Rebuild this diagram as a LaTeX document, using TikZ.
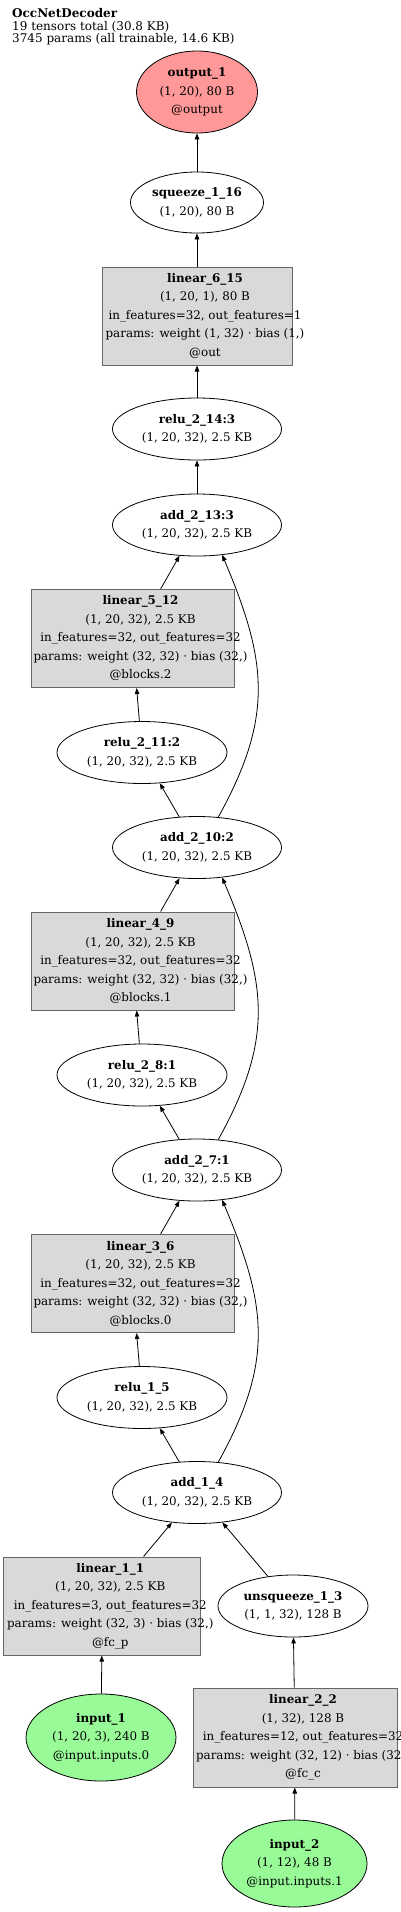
\documentclass[tikz,border=0pt]{standalone}
\usepackage{fontspec}
\setmainfont{DejaVu Serif}
\usetikzlibrary{arrows.meta,shapes.geometric}
\definecolor{OutputFill}{HTML}{FF9999}
\definecolor{InputFill}{HTML}{98FB98}
\definecolor{LayerFill}{HTML}{D9D9D9}
\definecolor{LayerEdge}{HTML}{666666}

\begin{document}
\begin{tikzpicture}[x=1pt,y=1pt,
        tensor/.style={ellipse,draw,line width=.8pt,inner sep=0pt,minimum width=169pt,minimum height=62pt,align=center,font=\fontsize{11.9}{18.5}\selectfont},
        layer/.style={rectangle,draw=LayerEdge,fill=LayerFill,line width=1pt,inner sep=0pt,minimum width=203pt,minimum height=98pt},
        layertext/.style={align=center,inner sep=0pt,xshift=8pt,font=\fontsize{11.9}{18.5}\selectfont},
        link/.style={-{Triangle[length=6pt,width=4.5pt]},line width=.8pt}]
        \useasboundingbox (0,0) rectangle (400,-1912);
        \node[anchor=north west,inner sep=0pt,align=left,font=\fontsize{12}{12.4}\selectfont] (title) at (12,-8.3) {\textbf{OccNetDecoder}\\19 tensors total (30.8 KB)\\3745 params (all trainable, 14.6 KB)};
        % output side
        \node[tensor,fill=OutputFill,minimum width=121pt,minimum height=82pt] (out1) at (197,-92) {\textbf{output\_1}\\(1, 20), 80 B\\@output};
        \node[tensor,minimum width=133pt,minimum height=61pt] (sq16) at (197,-202.5) {\textbf{squeeze\_1\_16}\\(1, 20), 80 B};
        \node[layer,minimum width=190pt,label={[layertext]center:{\textbf{linear\_6\_15}\\(1, 20, 1), 80 B\\in\_features=32, out\_features=1\\params: weight (1, 32) · bias (1,)\\@out}}] (lin15) at (197,-316) {};
        \node[tensor] (relu14) at (197,-429) {\textbf{relu\_2\_14:3}\\(1, 20, 32), 2.5 KB};
        % residual blocks
        \node[tensor] (add13) at (197,-525) {\textbf{add\_2\_13:3}\\(1, 20, 32), 2.5 KB};
        \node[layer,label={[layertext]center:{\textbf{linear\_5\_12}\\(1, 20, 32), 2.5 KB\\in\_features=32, out\_features=32\\params: weight (32, 32) · bias (32,)\\@blocks.2}}] (lin12) at (132.5,-638.5) {};
        \node[tensor,minimum width=170pt] (relu11) at (142,-752.5) {\textbf{relu\_2\_11:2}\\(1, 20, 32), 2.5 KB};
        \node[tensor] (add10) at (197,-847.5) {\textbf{add\_2\_10:2}\\(1, 20, 32), 2.5 KB};
        \node[layer,label={[layertext]center:{\textbf{linear\_4\_9}\\(1, 20, 32), 2.5 KB\\in\_features=32, out\_features=32\\params: weight (32, 32) · bias (32,)\\@blocks.1}}] (lin9) at (132.5,-961) {};
        \node[tensor,minimum width=170pt] (relu8) at (142,-1075) {\textbf{relu\_2\_8:1}\\(1, 20, 32), 2.5 KB};
        \node[tensor] (add7) at (197,-1170) {\textbf{add\_2\_7:1}\\(1, 20, 32), 2.5 KB};
        \node[layer,label={[layertext]center:{\textbf{linear\_3\_6}\\(1, 20, 32), 2.5 KB\\in\_features=32, out\_features=32\\params: weight (32, 32) · bias (32,)\\@blocks.0}}] (lin6) at (132.5,-1283.5) {};
        \node[tensor,minimum width=170pt] (relu5) at (142,-1397.5) {\textbf{relu\_1\_5}\\(1, 20, 32), 2.5 KB};
        \node[tensor] (add4) at (197,-1492.5) {\textbf{add\_1\_4}\\(1, 20, 32), 2.5 KB};
        % inputs
        \node[layer,minimum width=197pt,label={[layertext]center:{\textbf{linear\_1\_1}\\(1, 20, 32), 2.5 KB\\in\_features=3, out\_features=32\\params: weight (32, 3) · bias (32,)\\@fc\_p}}] (lin1) at (102.3,-1606) {};
        \node[tensor,minimum width=150pt] (unsq3) at (293,-1606) {\textbf{unsqueeze\_1\_3}\\(1, 1, 32), 128 B};
        \node[tensor,fill=InputFill,minimum width=150pt,minimum height=87pt] (in1) at (101,-1737.5) {\textbf{input\_1}\\(1, 20, 3), 240 B\\@input.inputs.0};
        \node[layer,minimum width=204pt,minimum height=99pt,label={[layertext]center:{\textbf{linear\_2\_2}\\(1, 32), 128 B\\in\_features=12, out\_features=32\\params: weight (32, 12) · bias (32,)\\@fc\_c}}] (lin2) at (295,-1737.5) {};
        \node[tensor,fill=InputFill,minimum width=145pt,minimum height=87pt] (in2) at (294.5,-1863.5) {\textbf{input\_2}\\(1, 12), 48 B\\@input.inputs.1};
        \draw[link] (in1) -- (lin1);\draw[link] (in2) -- (lin2);\draw[link] (lin2) -- (unsq3);
        \draw[link] (lin1) -- (add4);\draw[link] (unsq3) -- (add4);
        \draw[link] (add4) -- (relu5);\draw[link] (relu5) -- (lin6);\draw[link] (lin6) -- (add7);
        \draw[link] (add7) -- (relu8);\draw[link] (relu8) -- (lin9);\draw[link] (lin9) -- (add10);
        \draw[link] (add10) -- (relu11);\draw[link] (relu11) -- (lin12);\draw[link] (lin12) -- (add13);
        \draw[link] (add4.55) .. controls +(61:115) and +(-67:115) .. (add7.-50);
        \draw[link] (add7.55) .. controls +(61:115) and +(-67:115) .. (add10.-50);
        \draw[link] (add10.55) .. controls +(61:115) and +(-67:115) .. (add13.-50);
        \draw[link] (add13) -- (relu14);\draw[link] (relu14) -- (lin15);\draw[link] (lin15) -- (sq16);\draw[link] (sq16) -- (out1);
      \end{tikzpicture}
\end{document}
